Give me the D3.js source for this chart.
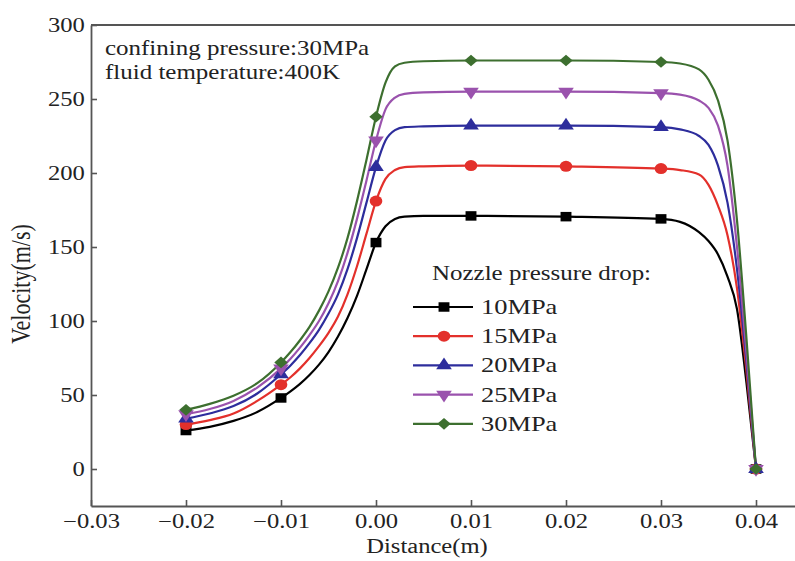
<!DOCTYPE html>
<html><head><meta charset="utf-8">
<script src="https://cdn.jsdelivr.net/npm/d3@7"></script>
<style>
html,body{margin:0;padding:0;background:#fff;}
svg{display:block;}
text{font-family:"Liberation Serif","Times New Roman",serif;fill:#222;}
</style></head>
<body>
<svg id="chart" width="795" height="561"></svg>
<script>
// ---- data ----
const seriesNames = ["10MPa", "15MPa", "20MPa", "25MPa", "30MPa"];
const seriesColors = ["#000000", "#e3302b", "#2d2d9c", "#9a52ad", "#3d6f2f"];
const markerX = [-0.02, -0.01, 0.00, 0.01, 0.02, 0.03, 0.04];
const m10 = [26, 48, 153, 171, 170.5, 169, 0];
const m15 = [30, 57, 181, 205, 204.5, 203, 0];
const m20 = [34, 64, 204, 232, 232, 231, 0];
const m25 = [37, 68, 222, 255, 255, 254, 0];
const m30 = [40, 72, 238, 276, 276, 275, 0];
const lineX = [-0.02, -0.0175, -0.015, -0.0125, -0.01, -0.009, -0.008, -0.007, -0.006, -0.005, -0.004, -0.003, -0.002, -0.001, 0, 0.001, 0.002, 0.003, 0.005, 0.01, 0.02, 0.03, 0.032, 0.034, 0.035, 0.036, 0.037, 0.038, 0.039, 0.04];
const v10 = [26, 28.5, 32.5, 38.5, 48, 52.5, 57.5, 63.5, 70.5, 79, 89.5, 102, 117, 135, 153, 164, 169, 170.5, 171, 171, 170.5, 169, 167, 160, 154, 145, 130, 108, 58, 0];
const v15 = [30, 33, 37.5, 46, 57, 62, 68, 75, 83, 92, 103, 118, 137, 159, 181, 196, 202, 204, 204.5, 205, 204.5, 203, 202, 199, 192, 178, 158, 122, 66, 0];
const v20 = [34, 37.5, 42.5, 51, 64, 70, 77, 85, 94, 105, 118, 135, 156, 180, 204, 222, 229, 231, 231.5, 232, 232, 231, 229.5, 225, 219, 205, 180, 135, 72, 0];
const v25 = [37, 40.5, 46, 55, 68, 74.5, 82, 90.5, 100, 112, 127, 146, 169, 195, 222, 243, 251, 253.5, 254.5, 255, 255, 254, 253, 249, 244, 232, 205, 150, 78, 0];
const v30 = [40, 44, 49.5, 58, 72, 79, 87, 96, 107, 120, 136, 156, 181, 209, 238, 261, 272, 274.5, 275.5, 276, 276, 275, 274, 270, 263, 249, 222, 168, 88, 0];
const xTicks = [-0.03, -0.02, -0.01, 0.00, 0.01, 0.02, 0.03, 0.04];
const yTicks = [0, 50, 100, 150, 200, 250, 300];
const annotation = ["confining pressure:30MPa", "fluid temperature:400K"];
const legendTitle = "Nozzle pressure drop:";
const xTitle = "Distance(m)";
const yTitle = "Velocity(m/s)";

const lineVals = [v10, v15, v20, v25, v30];
const markVals = [m10, m15, m20, m25, m30];

// ---- layout ----
const svg = d3.select("#chart");
const SX = 1.23; // horizontal stretch of glyphs in the reference
const x = d3.scaleLinear().domain([-0.03, 0.045]).range([91, 803.5]);
const y = d3.scaleLinear().domain([-25, 300]).range([506, 25]);

const fmtX = d => (d < 0 ? "\u2212" : "") + Math.abs(d).toFixed(2);

// axes
const gx = svg.append("g").attr("transform", `translate(0,${y.range()[0]})`)
  .call(d3.axisBottom(x).tickValues(xTicks).tickFormat(fmtX).tickSize(-6).tickSizeOuter(0).tickPadding(8));
const gy = svg.append("g").attr("transform", `translate(${x.range()[0]},0)`)
  .call(d3.axisLeft(y).tickValues(yTicks).tickFormat(d3.format("d")).tickSize(-6).tickSizeOuter(0).tickPadding(5));
[gx, gy].forEach(g => {
  g.selectAll("path.domain").attr("stroke", "#555").attr("stroke-width", 1.8);
  g.selectAll(".tick line").attr("stroke", "#555").attr("stroke-width", 1.6);
  g.selectAll(".tick text").attr("font-size", 20).attr("fill", "#222")
    .attr("font-family", '"Liberation Serif","Times New Roman",serif');
});
gx.selectAll(".tick text").attr("transform", `scale(${SX},1)`);
gy.selectAll(".tick text").attr("transform", `scale(${SX},1)`);
// top frame line
svg.append("line").attr("x1", x.range()[0]).attr("x2", 795).attr("y1", y(300)).attr("y2", y(300))
  .attr("stroke", "#555").attr("stroke-width", 1.8);

// axis titles
svg.append("text").attr("transform", `translate(${x(0.00)+51},553) scale(${SX},1)`)
  .attr("text-anchor", "middle").attr("font-size", 20).text(xTitle);
svg.append("text").attr("transform", `translate(30,284) rotate(-90) scale(1,${SX})`)
  .attr("text-anchor", "middle").attr("font-size", 22).text(yTitle);

// annotation
annotation.forEach((t, i) => {
  svg.append("text").attr("transform", `translate(105,${55 + i * 24}) scale(${SX},1)`)
    .attr("font-size", 20.3).text(t);
});

// symbols
const symFns = [
  () => d3.symbol().type(d3.symbolSquare).size(90)(),
  () => d3.symbol().type(d3.symbolCircle).size(95)(),
  () => d3.symbol().type(d3.symbolTriangle).size(80)(),
  () => d3.symbol().type(d3.symbolTriangle).size(80)(),
  () => d3.symbol().type(d3.symbolSquare).size(68)()
];
const symRot = [0, 0, 0, 180, 45];

// lines
const line = d3.line().x(d => x(d[0])).y(d => y(d[1])).curve(d3.curveMonotoneX);
lineVals.forEach((vals, i) => {
  svg.append("path").datum(lineX.map((xv, k) => [xv, vals[k]]))
    .attr("d", line).attr("fill", "none").attr("stroke", seriesColors[i]).attr("stroke-width", 2.2);
});
// markers
markVals.forEach((vals, i) => {
  svg.append("g").selectAll("path").data(markerX.map((xv, k) => [xv, vals[k]])).join("path")
    .attr("d", symFns[i]())
    .attr("transform", d => `translate(${x(d[0])},${y(d[1])}) scale(1.15,1) rotate(${symRot[i]})`)
    .attr("fill", seriesColors[i]);
});

// legend
svg.append("text").attr("transform", `translate(432,280) scale(${SX},1)`).attr("font-size", 20.3).text(legendTitle);
seriesNames.forEach((name, i) => {
  const cy = 307 + i * 29.2;
  const g = svg.append("g");
  g.append("line").attr("x1", 413).attr("x2", 473).attr("y1", cy).attr("y2", cy)
    .attr("stroke", seriesColors[i]).attr("stroke-width", 2.2);
  g.append("path").attr("d", symFns[i]())
    .attr("transform", `translate(444,${cy}) scale(1.15,1) rotate(${symRot[i]})`)
    .attr("fill", seriesColors[i]);
  g.append("text").attr("transform", `translate(481,${cy + 7}) scale(${SX},1)`)
    .attr("font-size", 21.5).text(name);
});
</script>
</body></html>
